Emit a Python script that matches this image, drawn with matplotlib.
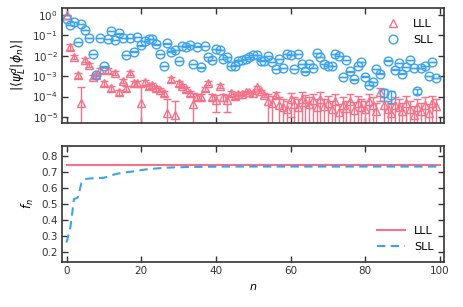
import numpy as np
import matplotlib.pyplot as plt
from matplotlib.lines import Line2D

# overlap |<psi_L^d|phi_n>| for n = 0..99
n_top = np.arange(100)
lll = [1.0, 2.8e-2, 9e-3, 1.15e-3, 4.9e-5, 6.3e-3, 3.5e-3, 9.5e-4, 1.15e-3, 2e-3,
       4.5e-4, 2e-3, 2.5e-4, 1.4e-3, 1.6e-4, 5.9e-4, 2.5e-4, 1.4e-3, 4.5e-4, 4.5e-4,
       4.9e-5, 5e-4, 3.2e-4, 3.5e-4, 2.5e-4, 2.1e-4, 1.45e-4, 1.5e-5, 7.2e-4, 1.3e-5,
       4.5e-4, 3.3e-4, 2.3e-4, 1.45e-4, 4.4e-5, 1e-4, 1e-4, 2.5e-4, 4.8e-4, 1e-4,
       6.8e-5, 3.3e-4, 1e-4, 6.8e-5, 1.45e-4, 1.1e-4, 1.4e-4, 1.4e-4, 1.6e-4, 1.6e-4,
       1.5e-4, 2.8e-4, 1.8e-4, 1.25e-4, 6.3e-5, 5e-5, 1.25e-4, 4e-5, 3.2e-5, 2.5e-5,
       8e-5, 4.5e-5, 3.2e-5, 8e-5, 5.6e-5, 4.5e-5, 7e-5, 3.2e-5, 8e-5, 3.5e-5,
       5e-5, 2.5e-5, 6.3e-5, 1.8e-5, 4e-5, 2.8e-5, 6.3e-5, 2.2e-5, 5e-5, 3.2e-5,
       2.5e-5, 6.3e-5, 4e-5, 2e-5, 1.6e-4, 4e-5, 2.5e-5, 1.6e-5, 4e-5, 3.2e-5,
       2e-5, 5e-5, 2.5e-5, 1.3e-5, 3.2e-5, 2e-5, 4e-5, 1.6e-5, 5e-5, 3.5e-5]
lll_err = [2e-2, 8e-3, 2e-3, 3e-4, 2.5e-4, 1.5e-3, 8e-4, 2.5e-4, 3e-4, 5e-4,
           1.2e-4, 5e-4, 7e-5, 3e-4, 4e-5, 1.5e-4, 7e-5, 3e-4, 1.2e-4, 1.2e-4,
           2.6e-4, 1.2e-4, 8e-5, 9e-5, 7e-5, 5e-5, 4e-5, 6e-5, 1.8e-4, 5e-5,
           1.1e-4, 8e-5, 6e-5, 4e-5, 1e-4, 3e-5, 3e-5, 6e-5, 1.2e-4, 3e-5,
           5e-5, 8e-5, 4e-5, 5e-5, 4e-5, 3e-5, 3e-5, 2e-5, 2e-5, 2e-5,
           2e-5, 4e-5, 3e-5, 3e-5, 7e-5, 6e-5, 4e-5, 5e-5, 4e-5, 3.5e-5,
           7e-5, 5e-5, 4e-5, 8e-5, 6e-5, 5e-5, 7e-5, 4e-5, 8e-5, 4e-5,
           6e-5, 3.5e-5, 7e-5, 2.5e-5, 5e-5, 3.5e-5, 7e-5, 3e-5, 6e-5, 4e-5,
           3.5e-5, 7e-5, 5e-5, 3e-5, 1e-4, 5e-5, 3.5e-5, 2.5e-5, 5e-5, 4e-5,
           3e-5, 6e-5, 3.5e-5, 2e-5, 4e-5, 3e-5, 5e-5, 2.5e-5, 6e-5, 4.5e-5]
sll = [0.63, 0.33, 0.47, 4.9e-2, 0.36, 0.18, 7.2e-2, 1.2e-2, 1.1e-3, 7.2e-2,
       3e-3, 6.6e-2, 0.165, 5.9e-2, 0.125, 7.2e-2, 1.1e-2, 7.2e-2, 1.6e-2, 8.1e-2,
       3.2e-2, 5.4e-2, 6.5e-2, 6.5e-2, 3.6e-2, 1.2e-2, 3.2e-3, 4e-2, 1.6e-2, 1.9e-2,
       5.5e-3, 3e-2, 2.8e-2, 3.4e-2, 3.8e-3, 2.8e-2, 2.7e-3, 3e-2, 9e-3, 6.3e-3,
       2.1e-2, 1.9e-2, 6.8e-3, 8.5e-3, 3.1e-3, 3.3e-3, 5.8e-3, 6.3e-3, 7.1e-3, 8.5e-3,
       1.1e-2, 1.1e-2, 5.8e-3, 5.8e-3, 1e-2, 5.1e-3, 2.3e-3, 6.8e-3, 2.5e-3, 1.2e-2,
       1.1e-2, 2.3e-3, 1.2e-2, 3.8e-3, 1.7e-3, 3.8e-3, 2.5e-3, 1.4e-2, 8.5e-3, 3.8e-3,
       3.2e-3, 3.2e-3, 1.2e-2, 1e-2, 9e-4, 6.3e-3, 1.7e-3, 7e-4, 3.2e-3, 5.1e-3,
       9.5e-4, 3.7e-4, 5e-4, 2.3e-3, 1.35e-3, 1.5e-4, 5.8e-3, 1.2e-4, 2.1e-3, 4.5e-3,
       1.35e-3, 2.8e-3, 6.3e-3, 2.5e-3, 1.9e-4, 2.5e-3, 3.2e-3, 1.05e-3, 5.1e-3, 8e-4]
sll_err = [1e-2, 5e-3, 7e-3, 8e-4, 5e-3, 3e-3, 1e-3, 2e-4, 3e-5, 1e-3,
           5e-5, 1e-3, 2e-3, 1e-3, 2e-3, 1e-3, 2e-4, 1e-3, 3e-4, 1e-3,
           5e-4, 8e-4, 1e-3, 1e-3, 6e-4, 2e-4, 5e-5, 6e-4, 3e-4, 3e-4,
           1e-4, 5e-4, 5e-4, 5e-4, 6e-5, 5e-4, 5e-5, 5e-4, 1.5e-4, 1e-4,
           3e-4, 3e-4, 1e-4, 1.5e-4, 5e-5, 5e-5, 1e-4, 1e-4, 1e-4, 1.5e-4,
           2e-4, 2e-4, 1e-4, 1e-4, 2e-4, 8e-5, 4e-5, 1e-4, 4e-5, 2e-4,
           2e-4, 4e-5, 2e-4, 6e-5, 3e-5, 6e-5, 4e-5, 2e-4, 1.5e-4, 6e-5,
           5e-5, 5e-5, 2e-4, 2e-4, 2e-5, 1e-4, 3e-5, 2e-5, 5e-5, 8e-5,
           2e-5, 1e-5, 1e-5, 4e-5, 3e-5, 9e-5, 1e-4, 7e-5, 4e-5, 8e-5,
           3e-5, 5e-5, 1e-4, 4e-5, 5e-5, 4e-5, 5e-5, 2e-5, 8e-5, 2e-5]

# f_n for n = 0..100
n_bot = np.arange(101)
f_lll = [0.742] * 101
f_sll = [0.26, 0.35, 0.53, 0.54, 0.63, 0.655, 0.658, 0.66, 0.661, 0.662,
         0.663, 0.67, 0.678, 0.685, 0.69, 0.695, 0.698, 0.70, 0.703, 0.707,
         0.711, 0.714, 0.717, 0.719, 0.721, 0.723, 0.725, 0.726, 0.727, 0.728,
         0.729, 0.729, 0.730, 0.730, 0.731, 0.731, 0.731, 0.732, 0.732, 0.732,
         0.732, 0.732, 0.733, 0.733, 0.733, 0.733, 0.733, 0.733, 0.733, 0.733,
         0.733, 0.733, 0.733, 0.733, 0.733, 0.733, 0.733, 0.733, 0.733, 0.733,
         0.733, 0.733, 0.733, 0.733, 0.733, 0.733, 0.733, 0.733, 0.733, 0.733,
         0.733, 0.733, 0.733, 0.733, 0.733, 0.733, 0.733, 0.733, 0.733, 0.733,
         0.733, 0.733, 0.733, 0.733, 0.733, 0.733, 0.733, 0.733, 0.733, 0.733,
         0.733, 0.733, 0.733, 0.733, 0.733, 0.733, 0.733, 0.733, 0.733, 0.733,
         0.733]

c_lll = '#f77189'
c_sll = '#3ba3ec'
dark = '#333333'

plt.rcParams['font.size'] = 7.5
plt.rcParams['axes.edgecolor'] = dark
plt.rcParams['axes.linewidth'] = 1.2
plt.rcParams['xtick.color'] = dark
plt.rcParams['ytick.color'] = dark

fig = plt.figure(figsize=(4.63, 3.07), dpi=100)
ax1 = fig.add_axes([0.134, 0.599, 0.824, 0.375])
ax2 = fig.add_axes([0.134, 0.147, 0.824, 0.377])

ax1.errorbar(n_top, lll, yerr=lll_err, fmt='^', color=c_lll, mfc='none',
             ms=6, mew=1, capsize=3, elinewidth=1)
ax1.errorbar(n_top, sll, yerr=sll_err, fmt='o', color=c_sll, mfc='none',
             ms=6.3, mew=1, capsize=3, elinewidth=1)
ax1.set_yscale('log')
ax1.set_ylim(5e-6, 2.2)
ax1.set_xlim(-1.2, 101)
ax1.set_xticks(range(0, 101, 20))
ax1.set_xticklabels([])
ax1.set_yticks([1e0, 1e-1, 1e-2, 1e-3, 1e-4, 1e-5])
ax1.minorticks_off()
ax1.set_ylabel(r'$|\langle\psi_L^d|\phi_n\rangle|$', fontsize=9, labelpad=3)
handles = [Line2D([], [], ls='none', marker='^', color=c_lll, mfc='none', ms=6),
           Line2D([], [], ls='none', marker='o', color=c_sll, mfc='none', ms=6.3)]
ax1.legend(handles, ['LLL', 'SLL'], loc='upper right', frameon=False,
           fontsize=8, handletextpad=0.8, borderaxespad=0.6)

ax2.plot(n_bot, f_lll, color=c_lll, lw=1.5, label='LLL')
ax2.plot(n_bot, f_sll, color=c_sll, lw=1.5, ls=(0, (4, 2.6)), label='SLL')
ax2.set_xlim(-1.2, 101)
ax2.set_ylim(0.14, 0.86)
ax2.set_xticks(range(0, 101, 20))
ax2.set_yticks([0.2, 0.3, 0.4, 0.5, 0.6, 0.7, 0.8])
ax2.set_xlabel(r'$n$', fontsize=8)
ax2.set_ylabel(r'$f_n$', fontsize=8.5)
ax2.legend(loc='lower right', frameon=False, fontsize=8, handlelength=2.5)

for ax in (ax1, ax2):
    ax.tick_params(direction='in', top=True, right=True, length=4, width=1, pad=3)

fig.savefig('out.png', dpi=100)
